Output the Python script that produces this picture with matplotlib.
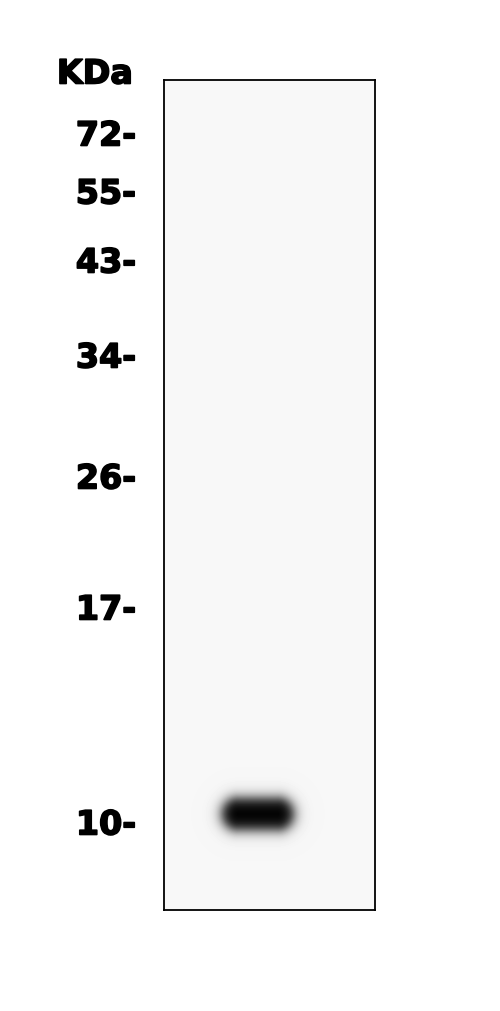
import numpy as np
import matplotlib
matplotlib.use("Agg")
import matplotlib.pyplot as plt
import matplotlib.transforms as mtrans
import matplotlib.patheffects as pe

# ---- data ----
ladder_kda = ["72", "55", "43", "34", "26", "17", "10"]
ladder_migration = [135, 193, 262, 357, 478, 609, 824]   # migration distance on the blot scale
unit_label = "KDa"
band_lane_pos = [0.445]      # lane-relative horizontal position of band
band_migration = [815]       # migration of detected band
band_intensity = [1.0]

W, H, DPI = 500, 1012, 100
fig = plt.figure(figsize=(W / DPI, H / DPI), dpi=DPI)
fig.patch.set_facecolor("white")

L, R, T, B = 164, 375, 81, 911
ax = fig.add_axes([L / W, 1 - B / H, (R - L) / W, (B - T) / H])
ax.set_xlim(0, 1)
ax.set_ylim(B, T)
ax.set_xticks([])
ax.set_yticks([])
for s in ax.spines.values():
    s.set_linewidth(1.3)
    s.set_color("black")

# ---- render lane image ----
bg = 0.969
nx, ny = (R - L), (B - T)
xs = (np.arange(nx) + 0.5) / nx
ys = T + np.arange(ny) + 0.5
X, Y = np.meshgrid(xs, ys)
px_per_x = (R - L)
img = np.zeros_like(X)
half_len, rad, soft = 19.5, 16.0, 3.8
for xc, yc, inten in zip(band_lane_pos, band_migration, band_intensity):
    dx = (X - xc) * px_per_x
    dy = Y - yc
    d = np.sqrt(np.maximum(np.abs(dx) - half_len, 0) ** 2 + dy ** 2) - rad
    img = np.maximum(img, inten / (1 + np.exp(d / soft)))
vals = bg * (1 - img)
ax.imshow(vals, cmap="gray", vmin=0, vmax=1, extent=[0, 1, B, T],
          aspect="auto", interpolation="nearest", zorder=0)

# ---- labels ----
base = mtrans.blended_transform_factory(fig.transFigure, ax.transData)
trans = base + mtrans.ScaledTranslation(0, -2 / DPI, fig.dpi_scale_trans)
label_x = 136 / W
fx = [pe.withStroke(linewidth=1.2, foreground="black")]
for lab, m in zip(ladder_kda, ladder_migration):
    ax.text(label_x, m, lab + "-", transform=trans, ha="right", va="center",
            fontsize=24, fontweight="bold", family="DejaVu Sans", color="black",
            path_effects=fx)
fig.text(133 / W, 1 - 75 / H, unit_label, ha="right", va="center",
         fontsize=24, fontweight="bold", family="DejaVu Sans", color="black",
         path_effects=fx)

fig.savefig("out.png", dpi=DPI, facecolor="white")
